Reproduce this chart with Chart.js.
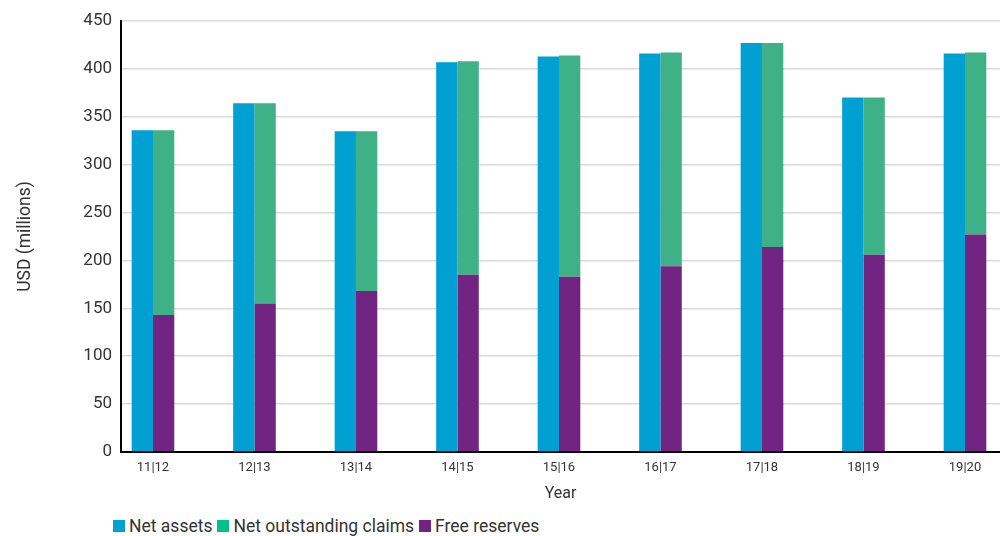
<!DOCTYPE html>
<html>
<head>
<meta charset="utf-8">
<script src="https://cdn.jsdelivr.net/npm/chart.js@4.4.1/dist/chart.umd.min.js"></script>
<style>
  html, body { margin: 0; padding: 0; background: #fff; }
  #wrap { position: relative; width: 1000px; height: 536px; }
  #chart { position: absolute; left: 0; top: 0; }
  #legend { position: absolute; left: 113px; top: 516px; display: flex; align-items: center;
            font: 17.5px Roboto, sans-serif; color: #333; white-space: nowrap; }
  #legend .item { display: flex; align-items: center; margin-right: 5px; }
  #legend .sw { width: 12px; height: 12px; margin-right: 4px; }
</style>
</head>
<body>
<div id="wrap">
  <canvas id="chart" width="1000" height="510"></canvas>
  <div id="legend"></div>
</div>
<script>
/* ── datos ── */
const years        = ['11|12', '12|13', '13|14', '14|15', '15|16', '16|17', '17|18', '18|19', '19|20'];
const netAssets    = [336, 364, 335, 407, 413, 416, 427, 370, 416];
const netClaims    = [193, 209, 167, 223, 231, 223, 213, 164, 190];
const freeReserves = [143, 155, 168, 185, 183, 194, 214, 206, 227];
const yTicks       = [0, 50, 100, 150, 200, 250, 300, 350, 400, 450];

const seriesNames  = ['Net assets', 'Net outstanding claims', 'Free reserves'];
const barColors    = ['#00a0d2', '#3eb286', '#722482'];
const legendColors = ['#00a0d2', '#00c08b', '#722482'];

const FONT = 'Roboto, sans-serif';
const TXT  = '#333333';

const pts = (arr) => arr.map((v, i) => ({ x: i, y: v }));

// Leyenda en HTML (alineada a la izquierda como el original)
const legend = document.getElementById('legend');
seriesNames.forEach((name, i) => {
  const it = document.createElement('span');
  it.className = 'item';
  it.innerHTML = `<span class="sw" style="background:${legendColors[i]}"></span>${name}`;
  legend.appendChild(it);
});

new Chart(document.getElementById('chart'), {
  type: 'bar',
  data: {
    datasets: [
      { label: seriesNames[0], data: pts(netAssets),    backgroundColor: barColors[0], stack: 'a', order: 0 },
      { label: seriesNames[1], data: pts(netClaims),    backgroundColor: barColors[1], stack: 'b', order: 2 },
      { label: seriesNames[2], data: pts(freeReserves), backgroundColor: barColors[2], stack: 'b', order: 1 },
    ],
  },
  options: {
    responsive: false,
    animation: false,
    events: [],
    layout: { padding: { top: 21, right: 0, bottom: 0, left: 0 } },
    datasets: { bar: { barPercentage: 1, categoryPercentage: 0.42, borderWidth: 0 } },
    plugins: { legend: { display: false }, tooltip: { enabled: false } },
    scales: {
      x: {
        type: 'linear',
        stacked: true,
        offset: false,
        min: -0.315,
        max: 8.345,
        afterBuildTicks: (s) => { s.ticks = years.map((_, i) => ({ value: i })); },
        afterFit: (s) => { s.height = 58; },
        ticks: {
          autoSkip: false, maxRotation: 0, padding: 8,
          color: TXT, font: { family: FONT, size: 13 },
          callback: (v) => years[v] ?? '',
        },
        grid: { drawOnChartArea: false, drawTicks: false },
        border: { color: '#000', width: 2 },
        title: { display: true, text: 'Year', color: TXT, font: { family: FONT, size: 16 },
                 padding: { top: 0, bottom: 6 } },
      },
      y: {
        stacked: true,
        min: 0,
        max: 450,
        afterBuildTicks: (s) => { s.ticks = yTicks.map(v => ({ value: v })); },
        afterFit: (s) => { s.width = 121; },
        ticks: { padding: 9, color: TXT, font: { family: FONT, size: 17 } },
        grid: { color: '#d9d9d9', lineWidth: 1.5, drawTicks: false },
        border: { color: '#000', width: 2 },
        title: { display: true, text: 'USD (millions)', color: TXT, font: { family: FONT, size: 17.5 },
                 padding: { top: 15, bottom: 0 } },
      },
    },
  },
});
</script>
</body>
</html>
